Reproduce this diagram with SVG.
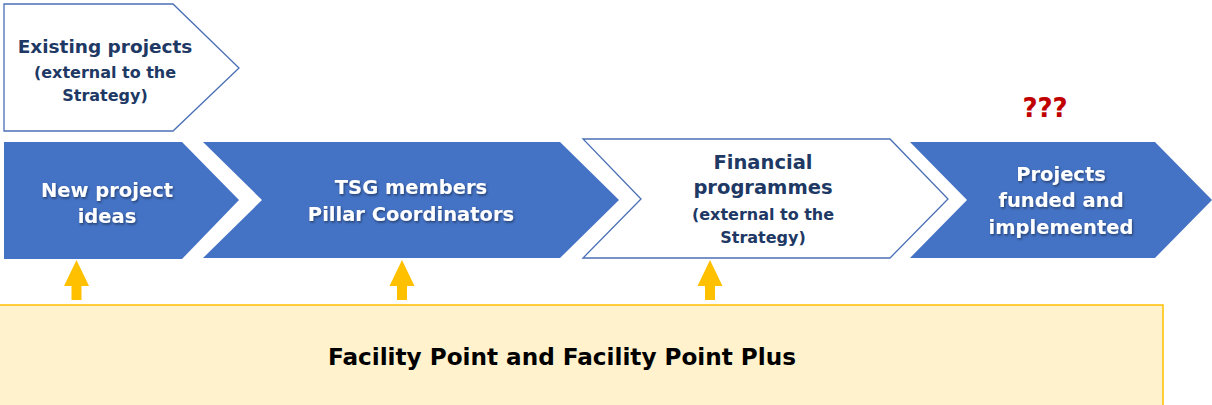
<svg xmlns="http://www.w3.org/2000/svg" width="1212" height="405" viewBox="0 0 1212 405">
<defs>
<style>
.blue{fill:#4472C4;}
.outl{fill:#FFFFFF;stroke:#4A6FB5;stroke-width:1.3;}
.wt{font-family:"DejaVu Sans","Liberation Sans",Arial,sans-serif;font-weight:bold;fill:#FFFFFF;text-anchor:middle;font-size:19.5px;}
.nt{font-family:"DejaVu Sans","Liberation Sans",Arial,sans-serif;font-weight:bold;fill:#203864;text-anchor:middle;}
.arrow{fill:#FFC000;}
</style>
<filter id="sh" x="-10%" y="-20%" width="120%" height="140%">
<feDropShadow dx="1" dy="1.5" stdDeviation="1" flood-color="#000000" flood-opacity="0.45"/>
</filter>
</defs>

<g id="existing-projects">
<polygon class="outl" points="4,4 173,4 239,68 173,131 4,131"/>
<text class="nt" x="105" y="53" font-size="18.5">Existing projects</text>
<text class="nt" x="105" y="78" font-size="16">(external to the</text>
<text class="nt" x="105" y="101" font-size="16">Strategy)</text>
</g>

<g id="new-project-ideas">
<polygon class="blue" points="4,142 182,142 239,200 182,259 4,259"/>
<text class="wt" filter="url(#sh)" x="107" y="197">New project</text>
<text class="wt" filter="url(#sh)" x="107" y="223">ideas</text>
</g>

<g id="tsg-members">
<polygon class="blue" points="203,142 560,142 619,200 560,258 203,258 262,200"/>
<text class="wt" filter="url(#sh)" x="411" y="194">TSG members</text>
<text class="wt" filter="url(#sh)" x="411" y="221">Pillar Coordinators</text>
</g>

<g id="financial-programmes">
<polygon class="outl" points="583,139 890,139 948,199 890,258 583,258 641,199"/>
<text class="nt" x="763" y="169" font-size="19.5">Financial</text>
<text class="nt" x="763" y="194" font-size="19.5">programmes</text>
<text class="nt" x="763" y="220" font-size="16">(external to the</text>
<text class="nt" x="763" y="243" font-size="16">Strategy)</text>
</g>

<g id="projects-funded">
<polygon class="blue" points="910,142 1155,142 1212,200 1155,258 910,258 967,200"/>
<text class="wt" filter="url(#sh)" x="1061" y="181">Projects</text>
<text class="wt" filter="url(#sh)" x="1061" y="207">funded and</text>
<text class="wt" filter="url(#sh)" x="1061" y="234">implemented</text>
</g>

<g id="question-marks">
<text x="1045" y="117" font-family="DejaVu Sans,Liberation Sans,Arial,sans-serif" font-weight="bold" font-size="26" fill="#C00000" text-anchor="middle">???</text>
</g>

<g id="facility-point">
<rect x="-1" y="305" width="1164" height="110" fill="#FFF2CC" stroke="#FFC000" stroke-width="1.5"/>
<text x="562" y="365" font-family="DejaVu Sans,Liberation Sans,Arial,sans-serif" font-weight="bold" font-size="23" fill="#000000" text-anchor="middle" textLength="468" lengthAdjust="spacingAndGlyphs">Facility Point and Facility Point Plus</text>
</g>

<g id="connectors">
<polygon class="arrow" points="76.5,260 89,286 81.5,286 81.5,300 71.5,300 71.5,286 64,286"/>
<polygon class="arrow" points="402,260 414.5,286 407,286 407,300 397,300 397,286 389.5,286"/>
<polygon class="arrow" points="710,260 722.5,286 715,286 715,300 705,300 705,286 697.5,286"/>
</g>
</svg>
